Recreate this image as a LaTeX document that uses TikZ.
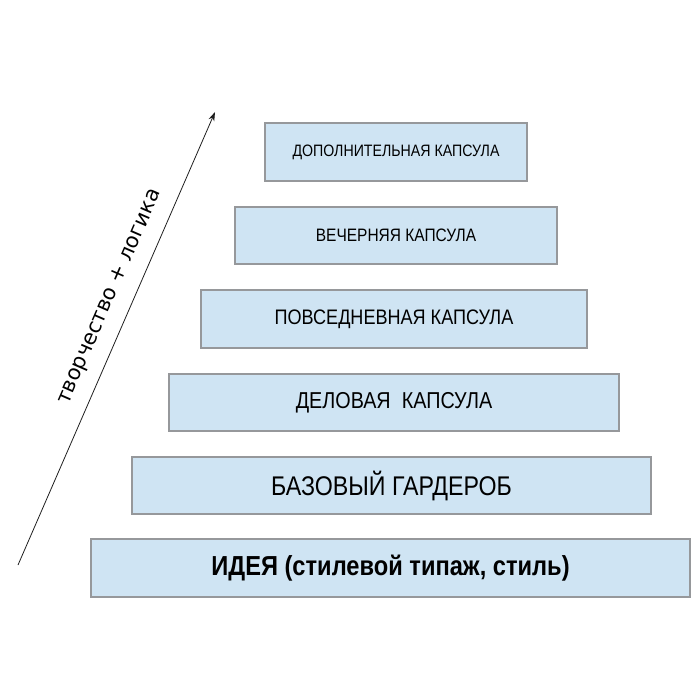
\documentclass[tikz,border=0pt]{standalone}
\usepackage{fontspec}
\setmainfont{Liberation Sans}
\newfontfamily\boxfont[FakeStretch=0.86]{Liberation Sans}
\newfontfamily\labelfont{DejaVu Sans}
\usepackage{xcolor}
\usetikzlibrary{arrows.meta,positioning}
\definecolor{capsfill}{RGB}{207,228,243}
\definecolor{capsline}{RGB}{150,152,155}
\definecolor{axisline}{RGB}{30,30,30}

\begin{document}
\begin{tikzpicture}[
  x=1pt, y=-1pt,
  capsule/.style={draw=capsline, line width=1.2pt, fill=capsfill, minimum height=57pt, inner sep=0pt, font=\boxfont},
  arr/.style={-{Stealth[length=9pt,width=6pt]}, line width=0.8pt, draw=axisline}
]
  \useasboundingbox (0,0) rectangle (700,700);
  \node[capsule, minimum width=262pt, minimum height=58pt, font=\boxfont\fontsize{16.5}{18}\selectfont] (extra) at (396,152) {ДОПОЛНИТЕЛЬНАЯ КАПСУЛА};
  \node[capsule, minimum width=322pt, font=\boxfont\fontsize{18}{20}\selectfont] (evening) at (396,235.5) {ВЕЧЕРНЯЯ КАПСУЛА};
  \node[capsule, minimum width=386pt, minimum height=58pt, font=\boxfont\fontsize{21}{24}\selectfont] (daily) at (394,319) {ПОВСЕДНЕВНАЯ КАПСУЛА};
  \node[capsule, minimum width=450pt, font=\boxfont\fontsize{23}{26}\selectfont] (business) at (394,402.5) {ДЕЛОВАЯ\ \ КАПСУЛА};
  \node[capsule, minimum width=519pt, font=\boxfont\fontsize{27}{30}\selectfont] (basic) at (391.5,485.5) {БАЗОВЫЙ ГАРДЕРОБ};
  \node[capsule, minimum width=599pt, minimum height=58pt, font=\boxfont\bfseries\fontsize{27.5}{30}\selectfont] (idea) at (390.5,568) {ИДЕЯ (стилевой типаж, стиль)};
  % axis
  \coordinate (start) at (18,565);
  \coordinate (tip) at (215,112);
  \draw[arr] (start) -- node[sloped, above, pos=0.572, inner sep=13pt, font=\labelfont\fontsize{21}{24}\selectfont] (axislabel) {творчество + логика} (tip);
\end{tikzpicture}
\end{document}
